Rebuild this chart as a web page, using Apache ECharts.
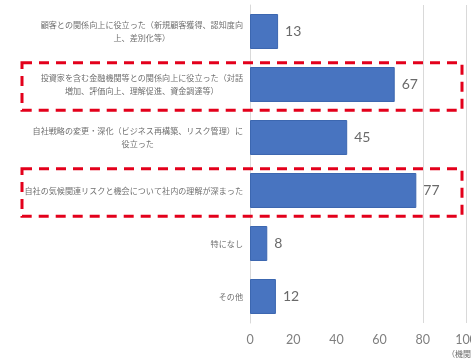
<!DOCTYPE html>
<html>
<head>
<meta charset="utf-8">
<script src="https://cdn.jsdelivr.net/npm/echarts@6/dist/echarts.min.js"></script>
<style>
  html, body { margin: 0; padding: 0; background: #ffffff; }
  #chart { width: 471px; height: 362px; }
</style>
</head>
<body>
<div id="chart"></div>
<script>
// Survey answers (number of institutions), top to bottom
const categories = [
  '顧客との関係向上に役立った（新規顧客獲得、認知度向\n上、差別化等）',
  '投資家を含む金融機関等との関係向上に役立った（対話\n増加、評価向上、理解促進、資金調達等）',
  '自社戦略の変更・深化（ビジネス再構築、リスク管理）に\n役立った',
  '自社の気候関連リスクと機会について社内の理解が深まった',
  '特になし',
  'その他'
];
const counts = [13, 67, 45, 77, 8, 12];
const xTicks = [0, 20, 40, 60, 80, 100];
const unitLabel = '（機関）';
// answers framed with a red dashed box
const emphasized = [1, 3];

const chart = echarts.init(document.getElementById('chart'), null, { renderer: 'canvas' });

const gridLineColors = ['#d9d9d9', 'rgba(0,0,0,0)', 'rgba(0,0,0,0)', 'rgba(0,0,0,0)', '#d9d9d9', '#d9d9d9'];
const labelFont = '"Noto Sans CJK JP", sans-serif';
const labelSize = 8.1;
const labelColor = '#6f6f6f';
const xMax = xTicks[xTicks.length - 1];

// Wrapped answers: pad every line symmetrically to the width of the longest
// line, so the lines sit centred inside a block that is right-aligned to the axis.
const measureCtx = document.createElement('canvas').getContext('2d');
measureCtx.font = labelSize + 'px ' + labelFont;
const richLines = {};
const wrappedText = {};
categories.forEach(function (c, i) {
  if (c.indexOf('\n') < 0) return;
  const lines = c.split('\n');
  const widths = lines.map(function (s) { return measureCtx.measureText(s).width; });
  const blockW = Math.max.apply(null, widths);
  wrappedText[c] = lines.map(function (s, j) {
    const pad = (blockW - widths[j]) / 2;
    const key = 'l' + i + '_' + j;
    richLines[key] = {
      padding: [0, pad, 0, pad],
      color: labelColor,
      fontSize: labelSize,
      lineHeight: 13,
      fontFamily: labelFont
    };
    return '{' + key + '|' + s + '}';
  }).join('\n');
});

// dashed frame spanning from the label column to just inside the right edge of the plot
function renderFrame(params, api) {
  const center = api.coord([0, api.value(1)]);
  const right = api.coord([xMax, api.value(1)])[0] - 4;
  const band = api.size([0, 1])[1];
  const h = band * 0.9;
  const left = 22;
  return {
    type: 'rect',
    shape: { x: left, y: center[1] + 2 - h / 2, width: right - left, height: h },
    style: { fill: 'none', stroke: '#e3001b', lineWidth: 3, lineDash: [10, 7] },
    z2: 100
  };
}

chart.setOption({
  backgroundColor: '#ffffff',
  animation: false,
  grid: { left: 250, right: 5, top: 5, bottom: 39, outerBoundsMode: 'none' },
  xAxis: {
    type: 'value',
    min: xTicks[0],
    max: xMax,
    interval: xTicks[1] - xTicks[0],
    axisLine: { show: false },
    axisTick: { show: false },
    axisLabel: {
      color: '#7f7f7f',
      fontSize: 12.5,
      fontFamily: 'Lato, "Noto Sans", sans-serif',
      margin: 10,
      hideOverlap: false
    },
    splitLine: { show: true, lineStyle: { color: gridLineColors, width: 1 } }
  },
  yAxis: {
    type: 'category',
    inverse: true,
    data: categories,
    axisLine: { show: true, lineStyle: { color: '#d9d9d9', width: 1 } },
    axisTick: { show: false },
    axisLabel: {
      margin: 7,
      align: 'right',
      color: labelColor,
      fontSize: labelSize,
      lineHeight: 13,
      fontFamily: labelFont,
      formatter: function (v) { return wrappedText[v] || v; },
      rich: richLines
    }
  },
  graphic: [{
    type: 'text',
    right: -8,
    bottom: 4,
    style: {
      text: unitLabel,
      fill: '#6a6a6a',
      font: '8px "Noto Sans CJK JP", sans-serif'
    }
  }],
  series: [{
    type: 'bar',
    data: counts,
    barWidth: '66%',
    itemStyle: { color: '#4874c0', borderColor: '#3c67b0', borderWidth: 1 },
    label: {
      show: true,
      position: 'right',
      distance: 7,
      color: '#6a6a6a',
      fontSize: 14,
      fontFamily: 'Lato, "Noto Sans", sans-serif'
    }
  }, {
    type: 'custom',
    renderItem: renderFrame,
    clip: false,
    silent: true,
    z: 10,
    encode: { x: 0, y: 1 },
    data: emphasized.map(function (i) { return [xMax, i]; })
  }]
});
</script>
</body>
</html>
